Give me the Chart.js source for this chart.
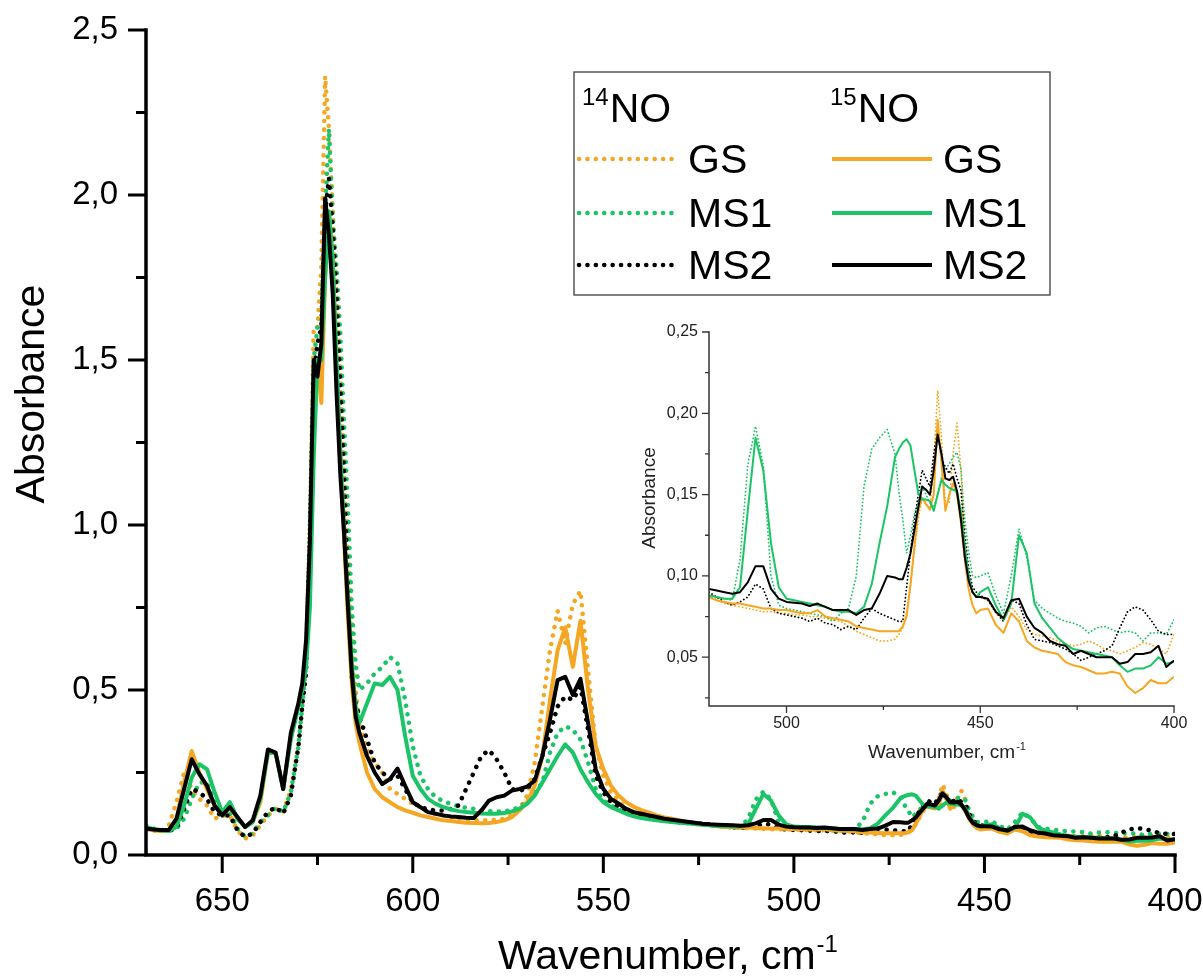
<!DOCTYPE html>
<html>
<head>
<meta charset="utf-8">
<script src="https://cdn.jsdelivr.net/npm/chart.js@4.4.1/dist/chart.umd.min.js"></script>
<style>
  body { margin: 0; background: #fff; }
  #wrap { position: relative; width: 1203px; height: 978px; }
  #main { position: absolute; left: 0; top: 0; }
  #inset { position: absolute; left: 600px; top: 300px; }
</style>
</head>
<body>
<div id="wrap">
  <canvas id="main" width="1203" height="978"></canvas>
  <canvas id="inset" width="600" height="480"></canvas>
</div>
<script>
// wavenumber grid, cm-1 (shared by all spectra)
const wavenumbers = [
  670,668,666,664,662,660,658,656,654,652,650,648,646,644,642,640,638,636,634,632,630,
  629,628,627,626,625,624,623,622,621,620,619,618,617,616,615,614,
  612,610,608,606,604,602,600,598,596,594,592,590,588,586,584,582,580,578,576,574,
  572,570,568,566,564,562,560,558,556,554,552,550,548,546,544,542,540,538,536,534,
  532,530,528,526,524,522,
  520,518,516,514,512,510,508,506,504,502,500,498,496,494,492,490,488,486,484,482,480,478,476,474,472,
  471,470,469,468,467,466,465,464,463,462,461,460,459,458,457,456,455,454,453,452,451,450,
  448,446,444,442,440,438,436,434,432,430,428,426,424,422,420,418,416,414,412,410,408,406,404,402,400
];

// 14NO, dotted
const gs14 = [
  .075,.074,.072,.09,.16,.25,.2,.17,.15,.11,.12,.12,.075,.05,.06,.09,.12,.14,.13,.2,.33,
  .45,.62,1.0,1.6,1.6,1.78,2.36,2.2,1.95,1.7,1.45,1.15,.9,.68,.5,.4,
  .32,.28,.25,.2,.185,.17,.155,.145,.13,.125,.12,.115,.11,.108,.106,.105,.105,.107,.11,.12,
  .14,.18,.28,.45,.62,.74,.64,.76,.80,.56,.33,.24,.19,.165,.14,.13,.12,.115,.11,.107,
  .104,.1,.098,.095,.092,.09,
  .088,.085,.083,.082,.081,.08,.079,.078,.078,.077,.077,.076,.076,.075,.075,.074,.073,.072,.069,.066,.064,.062,.06,.06,.061,
  .064,.068,.078,.093,.115,.135,.148,.145,.14,.17,.214,.186,.143,.145,.175,.194,.166,.12,.1,.09,.088,.087,
  .085,.077,.073,.081,.075,.067,.064,.063,.062,.06,.058,.057,.058,.06,.058,.055,.054,.052,.054,.056,.059,.058,.055,.052,.064
];
const ms1_14 = [
  .09,.08,.074,.073,.08,.11,.17,.22,.22,.16,.12,.13,.08,.055,.065,.1,.12,.145,.13,.19,.33,
  .45,.58,1.0,1.5,1.6,1.62,1.95,2.2,1.93,1.78,1.58,1.3,1.05,.75,.58,.5,
  .52,.55,.57,.6,.58,.47,.33,.24,.2,.175,.163,.155,.148,.143,.14,.136,.133,.132,.132,.137,
  .145,.16,.19,.22,.31,.37,.39,.38,.35,.28,.2,.165,.15,.138,.128,.12,.115,.11,.107,.104,
  .1,.098,.096,.094,.092,.09,
  .088,.087,.086,.085,.11,.168,.192,.168,.1,.082,.08,.079,.078,.077,.076,.075,.072,.077,.08,.1,.155,.178,.185,.19,.175,
  .152,.135,.114,.125,.138,.145,.155,.15,.145,.142,.15,.161,.165,.169,.173,.176,.166,.135,.115,.1,.099,.1,
  .102,.088,.077,.1,.129,.112,.085,.08,.077,.074,.072,.071,.069,.065,.068,.069,.067,.065,.066,.065,.06,.065,.065,.064,.073
];
const ms2_14 = [
  .08,.077,.075,.074,.08,.14,.2,.19,.17,.13,.12,.12,.075,.055,.065,.1,.13,.145,.125,.18,.33,
  .45,.55,.95,1.45,1.55,1.6,1.95,2.05,1.9,1.7,1.42,1.15,.8,.53,.46,.42,
  .35,.28,.25,.23,.24,.2,.16,.145,.138,.135,.135,.14,.15,.2,.25,.3,.318,.29,.25,.2,
  .195,.2,.23,.3,.37,.45,.48,.47,.51,.38,.24,.19,.16,.145,.135,.125,.12,.115,.11,.107,
  .104,.1,.098,.096,.094,.092,
  .09,.087,.084,.082,.084,.087,.095,.092,.08,.077,.076,.075,.074,.072,.074,.071,.07,.067,.069,.067,.074,.08,.077,.075,.073,
  .072,.072,.093,.115,.134,.15,.165,.16,.155,.175,.19,.172,.167,.163,.169,.16,.153,.125,.105,.093,.09,.088,
  .085,.078,.072,.085,.083,.07,.061,.06,.059,.057,.055,.052,.048,.05,.052,.054,.057,.068,.078,.081,.079,.073,.066,.064,.064
];

// 15NO, solid
const gs15 = [
  .078,.075,.072,.074,.11,.22,.315,.25,.2,.15,.12,.145,.11,.085,.1,.16,.31,.31,.2,.36,.46,
  .51,.6,.85,1.3,1.5,1.37,1.75,1.95,1.8,1.45,1.2,.95,.72,.52,.4,.34,
  .25,.2,.175,.16,.145,.135,.128,.12,.115,.11,.105,.103,.1,.098,.097,.096,.097,.1,.105,.115,
  .135,.16,.21,.3,.47,.62,.69,.57,.71,.5,.33,.26,.21,.18,.16,.146,.136,.128,.12,.114,
  .11,.105,.1,.096,.093,.09,
  .087,.085,.084,.083,.083,.082,.081,.08,.08,.079,.079,.078,.077,.077,.079,.075,.074,.073,.072,.069,.068,.067,.066,.066,.066,
  .066,.069,.075,.095,.118,.14,.148,.144,.141,.15,.196,.17,.14,.15,.157,.15,.133,.11,.092,.082,.077,.079,
  .08,.07,.065,.077,.072,.06,.056,.054,.053,.052,.047,.045,.044,.042,.04,.04,.041,.04,.032,.028,.031,.036,.034,.034,.038
];
const ms1_15 = [
  .085,.078,.074,.073,.085,.15,.235,.275,.26,.19,.13,.16,.11,.085,.1,.17,.31,.31,.2,.35,.45,
  .5,.57,.75,1.2,1.5,1.5,1.75,1.95,1.8,1.5,1.22,.98,.78,.58,.45,.4,
  .46,.52,.515,.54,.5,.36,.24,.2,.17,.155,.145,.138,.133,.13,.128,.126,.125,.125,.127,.132,
  .14,.155,.18,.22,.26,.3,.335,.31,.26,.22,.185,.16,.145,.135,.125,.117,.112,.108,.105,.102,
  .1,.098,.096,.094,.092,.09,
  .088,.087,.086,.086,.093,.14,.185,.165,.12,.093,.086,.085,.084,.083,.082,.081,.079,.078,.078,.077,.081,.095,.12,.143,.173,
  .178,.182,.184,.18,.165,.151,.147,.147,.146,.14,.15,.159,.156,.154,.153,.152,.14,.118,.1,.09,.087,.09,
  .093,.082,.073,.083,.125,.114,.083,.074,.068,.062,.058,.055,.054,.053,.052,.051,.05,.045,.041,.043,.043,.045,.05,.046,.047
];
const ms2_15 = [
  .08,.077,.076,.076,.11,.2,.29,.245,.21,.15,.12,.145,.115,.085,.105,.18,.32,.31,.2,.37,.46,
  .52,.65,.95,1.5,1.45,1.55,1.99,1.88,1.7,1.4,1.15,.97,.75,.55,.42,.37,
  .3,.25,.215,.23,.262,.21,.16,.145,.13,.125,.12,.117,.115,.113,.112,.135,.165,.175,.18,.195,
  .2,.207,.225,.3,.41,.53,.54,.485,.534,.4,.26,.2,.17,.156,.14,.13,.125,.12,.115,.11,
  .107,.104,.101,.098,.095,.093,
  .092,.091,.09,.089,.09,.096,.106,.106,.092,.086,.084,.0835,.083,.0815,.083,.081,.079,.079,.079,.076,.079,.08,.089,.1,.099,
  .098,.098,.105,.114,.128,.142,.155,.153,.15,.165,.187,.175,.16,.159,.161,.152,.135,.112,.097,.09,.087,.087,
  .086,.078,.074,.085,.086,.075,.068,.065,.06,.058,.057,.052,.054,.052,.05,.05,.05,.046,.047,.052,.052,.053,.057,.044,.048
];

const mainXMajor = [650, 600, 550, 500, 450, 400];
const mainXMinor = [625, 575, 525, 475, 425];
const mainYMajor = [0, 0.5, 1, 1.5, 2, 2.5];
const mainYMinor = [0.25, 0.75, 1.25, 1.75, 2.25];
const insetXMajor = [500, 450, 400];
const insetXMinor = [475, 425];
const insetYMajor = [0.05, 0.1, 0.15, 0.2, 0.25];
const insetYMinor = [0.025, 0.075, 0.125, 0.175, 0.225];
const stateLabels = ['GS', 'MS1', 'MS2'];

const FONT = "'Liberation Sans', Arial, sans-serif";
const ORANGE = '#F5A623', GREEN = '#1BC466', BLACK = '#000000';

const seriesList = [
  { label: '14NO GS',  values: gs14,   color: ORANGE, dotted: true,  order: 6 },
  { label: '14NO MS1', values: ms1_14, color: GREEN,  dotted: true,  order: 5 },
  { label: '14NO MS2', values: ms2_14, color: BLACK,  dotted: true,  order: 4 },
  { label: '15NO GS',  values: gs15,   color: ORANGE, dotted: false, order: 3 },
  { label: '15NO MS1', values: ms1_15, color: GREEN,  dotted: false, order: 2 },
  { label: '15NO MS2', values: ms2_15, color: BLACK,  dotted: false, order: 1 }
];

function buildSets(maxX, solidW, dotW, dash) {
  return seriesList.map(s => ({
    label: s.label,
    data: wavenumbers.map((w, i) => ({ x: w, y: s.values[i] })).filter(p => p.x <= maxX),
    borderColor: s.color,
    borderWidth: s.dotted ? dotW : solidW,
    borderDash: s.dotted ? dash : [],
    borderCapStyle: s.dotted ? 'round' : 'butt',
    borderJoinStyle: 'round',
    pointRadius: 0,
    tension: 0,
    fill: false,
    order: s.order
  }));
}

// axis lines + major/minor tick marks, placed with the chart's own scales
const axesPlugin = {
  id: 'axes',
  afterDatasetsDraw(chart, args, o) {
    const { ctx, chartArea: a, scales: { x, y } } = chart;
    ctx.save();
    ctx.strokeStyle = o.color;
    ctx.lineWidth = o.tickWidth;
    ctx.beginPath();
    o.xMajor.forEach(v => { const p = x.getPixelForValue(v); ctx.moveTo(p, a.bottom); ctx.lineTo(p, a.bottom + o.major); });
    o.xMinor.forEach(v => { const p = x.getPixelForValue(v); ctx.moveTo(p, a.bottom); ctx.lineTo(p, a.bottom + o.minor); });
    o.yMajor.forEach(v => { const p = y.getPixelForValue(v); ctx.moveTo(a.left, p); ctx.lineTo(a.left - o.major, p); });
    o.yMinor.forEach(v => { const p = y.getPixelForValue(v); ctx.moveTo(a.left, p); ctx.lineTo(a.left - o.minor, p); });
    ctx.stroke();
    ctx.lineWidth = o.width;
    ctx.lineCap = 'square';
    ctx.beginPath();
    ctx.moveTo(a.left, a.top);
    ctx.lineTo(a.left, a.bottom);
    ctx.lineTo(a.right, a.bottom);
    ctx.stroke();
    ctx.restore();
  }
};

function textWithSup(ctx, x, y, base, sup, size, supSize, rise, supFirst) {
  ctx.font = size + 'px ' + FONT;
  const wb = ctx.measureText(base).width;
  ctx.font = supSize + 'px ' + FONT;
  const ws = ctx.measureText(sup).width;
  if (supFirst) {
    ctx.fillText(sup, x, y - rise);
    ctx.font = size + 'px ' + FONT;
    ctx.fillText(base, x + ws + 1, y);
  } else {
    ctx.font = size + 'px ' + FONT;
    ctx.fillText(base, x, y);
    ctx.font = supSize + 'px ' + FONT;
    ctx.fillText(sup, x + wb + 1, y - rise);
  }
  return wb + ws + 1;
}

function centeredSup(ctx, cx, y, base, sup, size, supSize, rise) {
  ctx.font = size + 'px ' + FONT;
  const wb = ctx.measureText(base).width;
  ctx.font = supSize + 'px ' + FONT;
  const ws = ctx.measureText(sup).width;
  textWithSup(ctx, cx - (wb + ws + 1) / 2, y, base, sup, size, supSize, rise, false);
}

const mainText = {
  id: 'mainText',
  afterDraw(chart) {
    const ctx = chart.ctx;
    ctx.save();
    ctx.fillStyle = '#000';
    ctx.textBaseline = 'alphabetic';
    ctx.textAlign = 'left';
    centeredSup(ctx, 668, 969, 'Wavenumber, cm', '-1', 41, 24, 17);
    ctx.save();
    ctx.translate(44, 394);
    ctx.rotate(-Math.PI / 2);
    ctx.textAlign = 'center';
    ctx.font = '41px ' + FONT;
    ctx.fillText('Absorbance', 0, 0);
    ctx.restore();

    // legend box
    ctx.fillStyle = '#fff';
    ctx.fillRect(574, 72, 476, 223);
    ctx.strokeStyle = '#555';
    ctx.lineWidth = 1.5;
    ctx.strokeRect(574, 72, 476, 223);
    ctx.fillStyle = '#000';
    textWithSup(ctx, 582, 122, 'NO', '14', 41, 24, 17, true);
    textWithSup(ctx, 830, 122, 'NO', '15', 41, 24, 17, true);
    const rowsY = [159, 213, 265];
    const colors = [ORANGE, GREEN, BLACK];
    stateLabels.forEach((lab, i) => {
      const yy = rowsY[i];
      ctx.strokeStyle = colors[i];
      ctx.lineWidth = 4.5;
      ctx.lineCap = 'round';
      ctx.setLineDash([0.1, 8.3]);
      ctx.beginPath(); ctx.moveTo(579, yy); ctx.lineTo(677, yy); ctx.stroke();
      ctx.setLineDash([]);
      ctx.lineCap = 'butt';
      ctx.lineWidth = 4;
      ctx.beginPath(); ctx.moveTo(832, yy); ctx.lineTo(932, yy); ctx.stroke();
      ctx.font = '41px ' + FONT;
      ctx.fillText(lab, 688, yy + 14);
      ctx.fillText(lab, 943, yy + 14);
    });
    ctx.restore();
  }
};

const insetText = {
  id: 'insetText',
  afterDraw(chart) {
    const ctx = chart.ctx;
    ctx.save();
    ctx.fillStyle = '#222';
    ctx.textBaseline = 'alphabetic';
    ctx.textAlign = 'left';
    centeredSup(ctx, 347, 458, 'Wavenumber, cm', '-1', 19, 11, 8);
    ctx.translate(55, 198);
    ctx.rotate(-Math.PI / 2);
    ctx.textAlign = 'center';
    ctx.font = '19px ' + FONT;
    ctx.fillText('Absorbance', 0, 0);
    ctx.restore();
  }
};

function axisScale(opts) {
  return {
    type: 'linear',
    min: opts.min,
    max: opts.max,
    reverse: !!opts.reverse,
    grid: { display: false, drawTicks: false },
    border: { display: false },
    afterBuildTicks: s => { s.ticks = opts.major.map(v => ({ value: v })); },
    ticks: {
      autoSkip: false,
      maxRotation: 0,
      minRotation: 0,
      padding: opts.padding,
      color: opts.color,
      font: { family: FONT, size: opts.fontSize },
      callback: opts.format
    },
    afterFit: s => {
      if (opts.width) s.width = opts.width;
      if (opts.height) s.height = opts.height;
      s.paddingLeft = 0; s.paddingRight = 0; s.paddingTop = 0; s.paddingBottom = 0;
    }
  };
}

new Chart(document.getElementById('main'), {
  type: 'line',
  data: { datasets: buildSets(670, 4, 4.5, [0.1, 8.5]) },
  options: {
    responsive: false,
    animation: false,
    devicePixelRatio: 1,
    layout: { padding: { left: 0, top: 30, right: 28, bottom: 0 } },
    plugins: {
      legend: { display: false },
      tooltip: { enabled: false },
      axes: { color: '#000', width: 3.5, tickWidth: 3, major: 18, minor: 10,
              xMajor: mainXMajor, xMinor: mainXMinor, yMajor: mainYMajor, yMinor: mainYMinor }
    },
    scales: {
      x: axisScale({ min: 400, max: 670, reverse: true, major: mainXMajor, padding: 27,
                     color: '#000', fontSize: 33, height: 123, format: v => String(v) }),
      y: axisScale({ min: 0, max: 2.5, major: mainYMajor, padding: 28,
                     color: '#000', fontSize: 33, width: 146,
                     format: v => v.toFixed(1).replace('.', ',') })
    }
  },
  plugins: [axesPlugin, mainText]
});

new Chart(document.getElementById('inset'), {
  type: 'line',
  data: { datasets: buildSets(520, 2, 1.8, [0.1, 3.5]) },
  options: {
    responsive: false,
    animation: false,
    devicePixelRatio: 1,
    layout: { padding: { left: 0, top: 32, right: 26, bottom: 0 } },
    plugins: {
      legend: { display: false },
      tooltip: { enabled: false },
      axes: { color: '#333', width: 1.5, tickWidth: 1.3, major: 7, minor: 4,
              xMajor: insetXMajor, xMinor: insetXMinor, yMajor: insetYMajor, yMinor: insetYMinor }
    },
    scales: {
      x: axisScale({ min: 400, max: 520, reverse: true, major: insetXMajor, padding: 8,
                     color: '#222', fontSize: 16, height: 74, format: v => String(v) }),
      y: axisScale({ min: 0.02, max: 0.25, major: insetYMajor, padding: 11,
                     color: '#222', fontSize: 16, width: 109,
                     format: v => v.toFixed(2).replace('.', ',') })
    }
  },
  plugins: [axesPlugin, insetText]
});
</script>
</body>
</html>
